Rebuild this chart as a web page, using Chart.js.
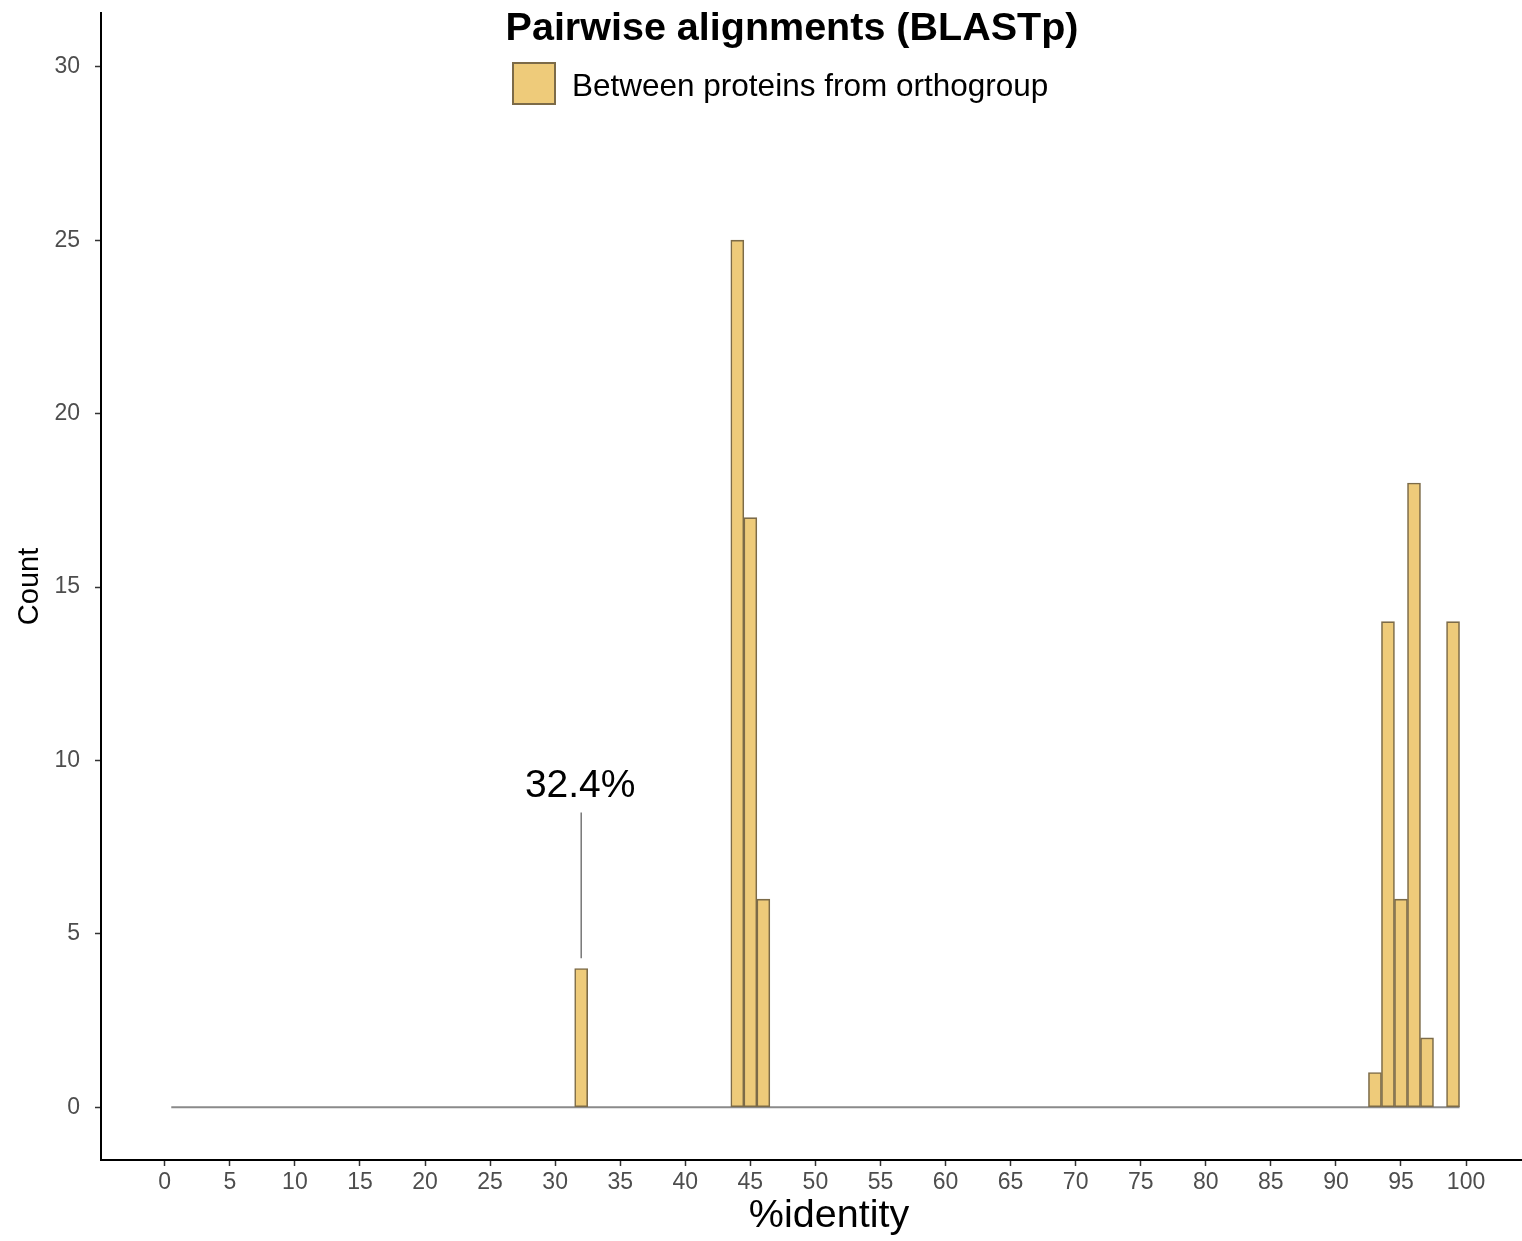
<!DOCTYPE html>
<html>
<head>
<meta charset="utf-8">
<script src="https://cdn.jsdelivr.net/npm/chart.js@4/dist/chart.umd.min.js"></script>
<style>
  html, body { margin: 0; padding: 0; background: #fff; }
  #wrap { width: 1522px; height: 1241px; }
</style>
</head>
<body>
<div id="wrap"><canvas id="histChart" width="1522" height="1241"></canvas></div>
<script>
// Histogram bins (1% wide, centred on integers) and their counts
const binCenters = [32, 44, 45, 46, 93, 94, 95, 96, 97, 99];
const binCounts  = [4, 25, 17, 6, 1, 14, 6, 18, 2, 14];
// first and last bin edges (zero bins are drawn as the flat baseline)
const binRange = [0.5, 99.5];

const xTicks = [0, 5, 10, 15, 20, 25, 30, 35, 40, 45, 50, 55, 60, 65, 70, 75, 80, 85, 90, 95, 100];
const yTicks = [0, 5, 10, 15, 20, 25, 30];

const titleText = 'Pairwise alignments (BLASTp)';
const seriesLabel = 'Between proteins from orthogroup';
const xTitle = '%identity';
const yTitle = 'Count';

// annotation: label, x value, line from/to y, text y
const annotX = 32;
const annotText = '32.4%';
const annotLine = [4.3, 8.5];
const annotTextY = 9.25;

const FILL = '#EECB7A';
const EDGE = '#7c6b48';
const FONT = "'Liberation Sans', Arial, sans-serif";

// Title, legend, x title and annotation drawn on top of the panel (as in the original)
const overlayPlugin = {
  id: 'overlay',
  afterDatasetsDraw(chart) {
    const ctx = chart.ctx;
    const xs = chart.scales.x, ys = chart.scales.y;
    ctx.save();
    // annotation
    const ax = xs.getPixelForValue(annotX);
    ctx.strokeStyle = '#555';
    ctx.lineWidth = 1.2;
    ctx.beginPath();
    ctx.moveTo(ax, ys.getPixelForValue(annotLine[0]));
    ctx.lineTo(ax, ys.getPixelForValue(annotLine[1]));
    ctx.stroke();
    ctx.fillStyle = '#000';
    ctx.font = '39px ' + FONT;
    ctx.textAlign = 'center';
    ctx.textBaseline = 'middle';
    ctx.fillText(annotText, ax - 1, ys.getPixelForValue(annotTextY));

    // title
    ctx.font = 'bold 39.5px ' + FONT;
    ctx.fillText(titleText, 792, 29);

    // x axis title
    ctx.font = '39.5px ' + FONT;
    ctx.fillText(xTitle, 829, 1216);

    // legend
    ctx.fillStyle = FILL;
    ctx.fillRect(513, 63, 42, 41);
    ctx.strokeStyle = EDGE;
    ctx.lineWidth = 2;
    ctx.strokeRect(513, 63, 42, 41);
    ctx.fillStyle = '#000';
    ctx.font = '31.5px ' + FONT;
    ctx.textAlign = 'left';
    ctx.fillText(seriesLabel, 572, 87);
    ctx.restore();
  }
};

const axisFont = { family: FONT, size: 23 };

new Chart(document.getElementById('histChart'), {
  type: 'bar',
  data: {
    datasets: [
      {
        type: 'line',
        label: 'baseline',
        data: binRange.map(x => ({ x: x, y: 0 })),
        borderColor: '#8a8a8a',
        borderWidth: 2,
        pointRadius: 0,
        order: 2
      },
      {
        label: seriesLabel,
        data: binCenters.map((c, i) => ({ x: c, y: binCounts[i] })),
        backgroundColor: FILL,
        borderColor: EDGE,
        borderWidth: 1.6,
        borderSkipped: false,
        barPercentage: 1,
        categoryPercentage: 1,
        order: 1
      }
    ]
  },
  options: {
    responsive: false,
    animation: false,
    layout: { padding: { top: 13, right: 0, left: 0, bottom: 0 } },
    plugins: {
      legend: { display: false },
      title: { display: false },
      tooltip: { enabled: false }
    },
    scales: {
      x: {
        type: 'linear',
        min: -4.9,
        max: 104.3,
        offset: false,
        afterBuildTicks: s => { s.ticks = xTicks.map(v => ({ value: v })); },
        afterFit: s => { s.height = 81; s.paddingLeft = 0; s.paddingRight = 0; },
        grid: { display: true, offset: false, drawOnChartArea: false, drawTicks: true, tickLength: 6, tickWidth: 1.5, tickColor: '#333' },
        border: { display: true, color: '#000', width: 2 },
        ticks: { color: '#4d4d4d', font: axisFont, padding: 3, maxRotation: 0, autoSkip: false },
        title: { display: false }
      },
      y: {
        type: 'linear',
        min: -1.52,
        max: 31.55,
        afterBuildTicks: s => { s.ticks = yTicks.map(v => ({ value: v })); },
        afterFit: s => { s.width = 101; s.paddingTop = 0; s.paddingBottom = 0; },
        grid: { display: true, drawOnChartArea: false, drawTicks: true, tickLength: 6, tickWidth: 1.5, tickColor: '#333' },
        border: { display: true, color: '#000', width: 2 },
        ticks: { color: '#4d4d4d', font: axisFont, padding: 15 },
        title: { display: true, text: yTitle, color: '#000', font: { family: FONT, size: 29 }, padding: { top: 13, bottom: 0 } }
      }
    }
  },
  plugins: [overlayPlugin]
});
</script>
</body>
</html>
